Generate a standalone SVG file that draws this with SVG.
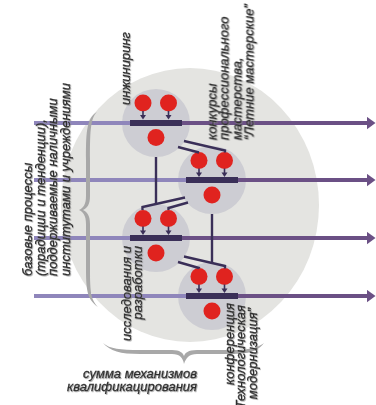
<svg xmlns="http://www.w3.org/2000/svg" width="376" height="405" viewBox="0 0 376 405">
<defs>
<style>
.bg{fill:#e4e4e1}
.nc{fill:#cdcdd3}
.bar{fill:#3a2f58}
.dot{fill:#e0231f}
.sa{stroke:#3a2f58;stroke-width:1.6;fill:none}
.sah{fill:#3a2f58}
.ll{stroke:#8f86bb;stroke-width:4;fill:none}
.lr{stroke:#6b5085;stroke-width:4;fill:none}
.cn{stroke:#3a2f58;stroke-width:2.4;fill:none}
.br{fill:#a8a8a8}
.t{font-family:"Liberation Sans",Arial,sans-serif;font-style:italic;font-size:13px;fill:#2e2e2e;stroke:#2e2e2e;stroke-width:0.3}
</style>
<marker id="ah" viewBox="0 0 9 13" refX="0.5" refY="6.5" markerWidth="9" markerHeight="13" markerUnits="userSpaceOnUse" orient="auto">
<path d="M0,0 L9,6.5 L0,13 Z" fill="#6b5085"/>
</marker>
<filter id="sh" x="-10%" y="-10%" width="120%" height="120%">
<feDropShadow dx="0.8" dy="0.8" stdDeviation="0.4" flood-color="#8a8a8a" flood-opacity="0.8"/>
</filter>
</defs>

<ellipse class="bg" cx="190" cy="205" rx="129" ry="137"/>

<g id="node1">
<circle class="nc" cx="156" cy="123" r="34"/>
<rect class="bar" x="130" y="120" width="52" height="6"/>
<circle class="dot" cx="143" cy="103" r="8.5"/>
<circle class="dot" cx="168.5" cy="103" r="8.5"/>
<circle class="dot" cx="156" cy="137.5" r="8.5"/>
<path class="sa" d="M143,111 V116"/><path class="sah" d="M140,115 H146 L143,119.5 Z"/>
<path class="sa" d="M168.5,111 V116"/><path class="sah" d="M165.5,115 H171.5 L168.5,119.5 Z"/>
</g>

<g id="node2">
<circle class="nc" cx="212" cy="180" r="34"/>
<rect class="bar" x="186" y="177" width="52" height="6"/>
<circle class="dot" cx="199" cy="160.5" r="8.5"/>
<circle class="dot" cx="224.5" cy="160.5" r="8.5"/>
<circle class="dot" cx="212" cy="195" r="8.5"/>
<path class="sa" d="M199,168.5 V173.5"/><path class="sah" d="M196,172.5 H202 L199,177 Z"/>
<path class="sa" d="M224.5,168.5 V173.5"/><path class="sah" d="M221.5,172.5 H227.5 L224.5,177 Z"/>
</g>

<g id="node3">
<circle class="nc" cx="156" cy="238" r="34"/>
<rect class="bar" x="130" y="235" width="52" height="6"/>
<circle class="dot" cx="143" cy="218.5" r="8.5"/>
<circle class="dot" cx="168.5" cy="218.5" r="8.5"/>
<circle class="dot" cx="156" cy="253" r="8.5"/>
<path class="sa" d="M143,226.5 V231.5"/><path class="sah" d="M140,230.5 H146 L143,235 Z"/>
<path class="sa" d="M168.5,226.5 V231.5"/><path class="sah" d="M165.5,230.5 H171.5 L168.5,235 Z"/>
</g>

<g id="node4">
<circle class="nc" cx="212" cy="296" r="34"/>
<rect class="bar" x="186" y="293" width="52" height="6"/>
<circle class="dot" cx="199" cy="276.5" r="8.5"/>
<circle class="dot" cx="224.5" cy="276.5" r="8.5"/>
<circle class="dot" cx="212" cy="311" r="8.5"/>
<path class="sa" d="M199,284.5 V289.5"/><path class="sah" d="M196,288.5 H202 L199,293 Z"/>
<path class="sa" d="M224.5,284.5 V289.5"/><path class="sah" d="M221.5,288.5 H227.5 L224.5,293 Z"/>
</g>

<g id="connectors">
<path class="ll" d="M34,123 H130"/>
<path class="lr" d="M182,123 H367" marker-end="url(#ah)"/>
<path class="ll" d="M34,180 H186"/>
<path class="lr" d="M238,180 H367" marker-end="url(#ah)"/>
<path class="ll" d="M34,238 H130"/>
<path class="lr" d="M182,238 H367" marker-end="url(#ah)"/>
<path class="ll" d="M34,296 H186"/>
<path class="lr" d="M238,296 H367" marker-end="url(#ah)"/>
<path class="cn" d="M184,141 L225,150.5 V152.5"/>
<path class="cn" d="M178,147 L199,152.5 V152.5"/>
<path class="cn" d="M185,197.5 L142.5,207 V210"/>
<path class="cn" d="M188,202.5 L168.5,208 V210"/>
<path class="cn" d="M184,256.5 L225,266 V268.5"/>
<path class="cn" d="M178,262 L199,268 V268.5"/>
<path class="cn" d="M156,157 V203.5"/>
<path class="cn" d="M212,214 V263.5"/>
</g>

<g id="braces">
<path class="br" d="M97,112 C86,118 86,135 86,160 L86,196 C86,205 83,208 79,210 C83,212 86,215 86,224 L86,270 C86,292 88,300 98,307 C91,300 90,292 90,270 L90,224 C90,215 87,212 83,210 C87,208 90,205 90,196 L90,160 C90,135 90,118 97,112 Z"/>
<path class="br" d="M103,343 C110,351 120,354 140,354 L172,354 C180,354 183,358 184,364 C186,358 189,354 197,354 L230,354 C250,354 258,351 264,343 C257,348 250,350 230,350 L197,350 C188,350 185,353 184,356 C183,353 180,350 172,350 L140,350 C120,350 110,349 103,343 Z"/>
</g>

<g id="labels" filter="url(#sh)">
<text class="t" transform="translate(129.5,105) rotate(-90)">инжиниринг</text>
<text class="t" transform="translate(216.5,140) rotate(-90)"><tspan x="0" dy="0">конкурсы</tspan><tspan x="0" dy="12.3">профессионального</tspan><tspan x="0" dy="12.3">мастерства,</tspan><tspan x="0" dy="12.3">“Летние мастерские”</tspan></text>
<text class="t" transform="translate(32,276) rotate(-90)"><tspan x="0" dy="0">базовые процессы</tspan><tspan x="0" dy="12.5">(традиции и тенденции),</tspan><tspan x="0" dy="12.5">поддерживаемые наличными</tspan><tspan x="0" dy="12.5">институтами и учреждениями</tspan></text>
<text class="t" text-anchor="end" transform="translate(131,246) rotate(-90)"><tspan x="0" dy="0">исследования и</tspan><tspan x="0" dy="10.8">разработки</tspan></text>
<text class="t" text-anchor="end" transform="translate(234,303) rotate(-90)"><tspan x="0" dy="0">конференция</tspan><tspan x="-2" dy="11.3">“Технологическая</tspan><tspan x="-5" dy="11.3">модернизация”</tspan></text>
<text class="t" text-anchor="end" x="197" y="377.5">сумма механизмов</text>
<text class="t" text-anchor="end" x="197" y="390.5">квалификацирования</text>
</g>
</svg>
